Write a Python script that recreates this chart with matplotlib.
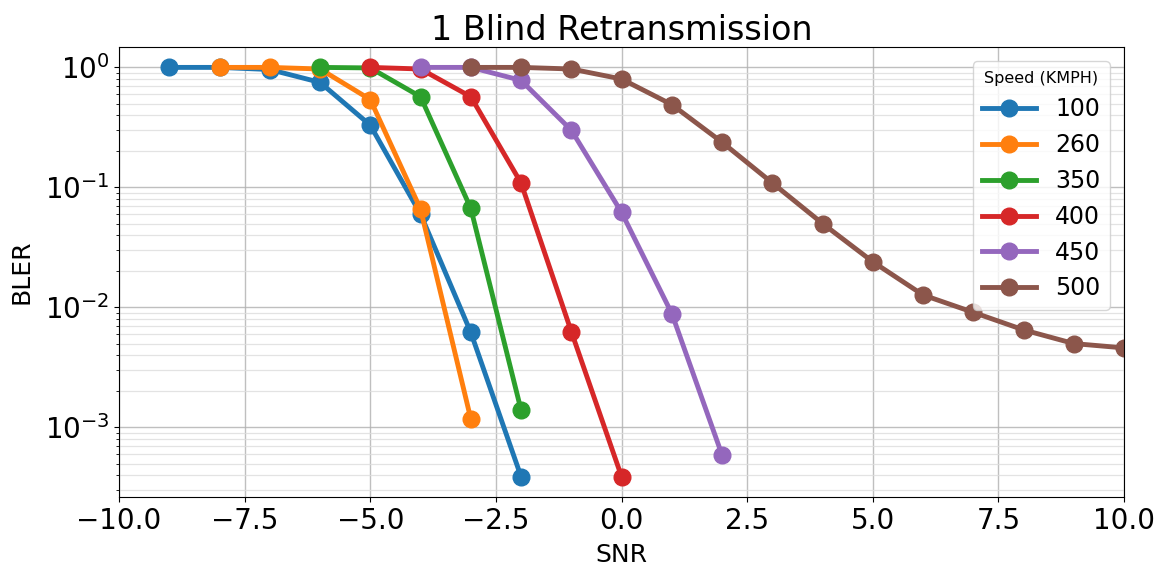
import matplotlib
matplotlib.use("Agg")
import matplotlib.pyplot as plt

# SNR sweep and block error rate per UE speed
snr_100 = [-9, -8, -7, -6, -5, -4, -3, -2]
bler_100 = [1.0, 1.0, 0.96, 0.75, 0.33, 0.060, 0.0062, 0.00039]

snr_260 = [-8, -7, -6, -5, -4, -3]
bler_260 = [1.0, 1.0, 0.97, 0.54, 0.066, 0.00118]

snr_350 = [-6, -5, -4, -3, -2]
bler_350 = [1.0, 0.99, 0.57, 0.067, 0.0014]

snr_400 = [-5, -4, -3, -2, -1, 0]
bler_400 = [1.0, 0.97, 0.57, 0.109, 0.0063, 0.00039]

snr_450 = [-4, -3, -2, -1, 0, 1, 2]
bler_450 = [1.0, 1.0, 0.78, 0.30, 0.062, 0.0089, 0.00059]

snr_500 = [-3, -2, -1, 0, 1, 2, 3, 4, 5, 6, 7, 8, 9, 10]
bler_500 = [1.0, 1.0, 0.97, 0.80, 0.49, 0.238, 0.109, 0.050, 0.024,
            0.0127, 0.0091, 0.0065, 0.0050, 0.0046]

speeds = ["100", "260", "350", "400", "450", "500"]
series = [(snr_100, bler_100), (snr_260, bler_260), (snr_350, bler_350),
          (snr_400, bler_400), (snr_450, bler_450), (snr_500, bler_500)]

fig = plt.figure(figsize=(11.62, 5.69), dpi=100)
ax = fig.add_axes([0.1024, 0.1265, 0.865, 0.791])

for label, (x, y) in zip(speeds, series):
    ax.plot(x, y, marker="o", linewidth=3.5, markersize=12, label=label)

ax.set_yscale("log")
ax.set_xlim(-10, 10)
ax.grid(which="major", color="#b0b0b0", linewidth=1.0, alpha=0.8)
ax.grid(which="minor", axis="y", color="#dddddd", linewidth=0.9, alpha=0.8)
ax.set_axisbelow(True)

ax.tick_params(axis="both", which="major", labelsize=20)
ax.set_xlabel("SNR", fontsize=18, labelpad=6)
ax.set_ylabel("BLER", fontsize=18, labelpad=8)
ax.set_title("1 Blind Retransmission", fontsize=24, pad=5)

leg = ax.legend(title="Speed (KMPH)", fontsize=17, title_fontsize=11.5,
                loc="upper right", handlelength=2.3, labelspacing=0.5,
                borderaxespad=0.6)

fig.savefig("out.png", dpi=100)
